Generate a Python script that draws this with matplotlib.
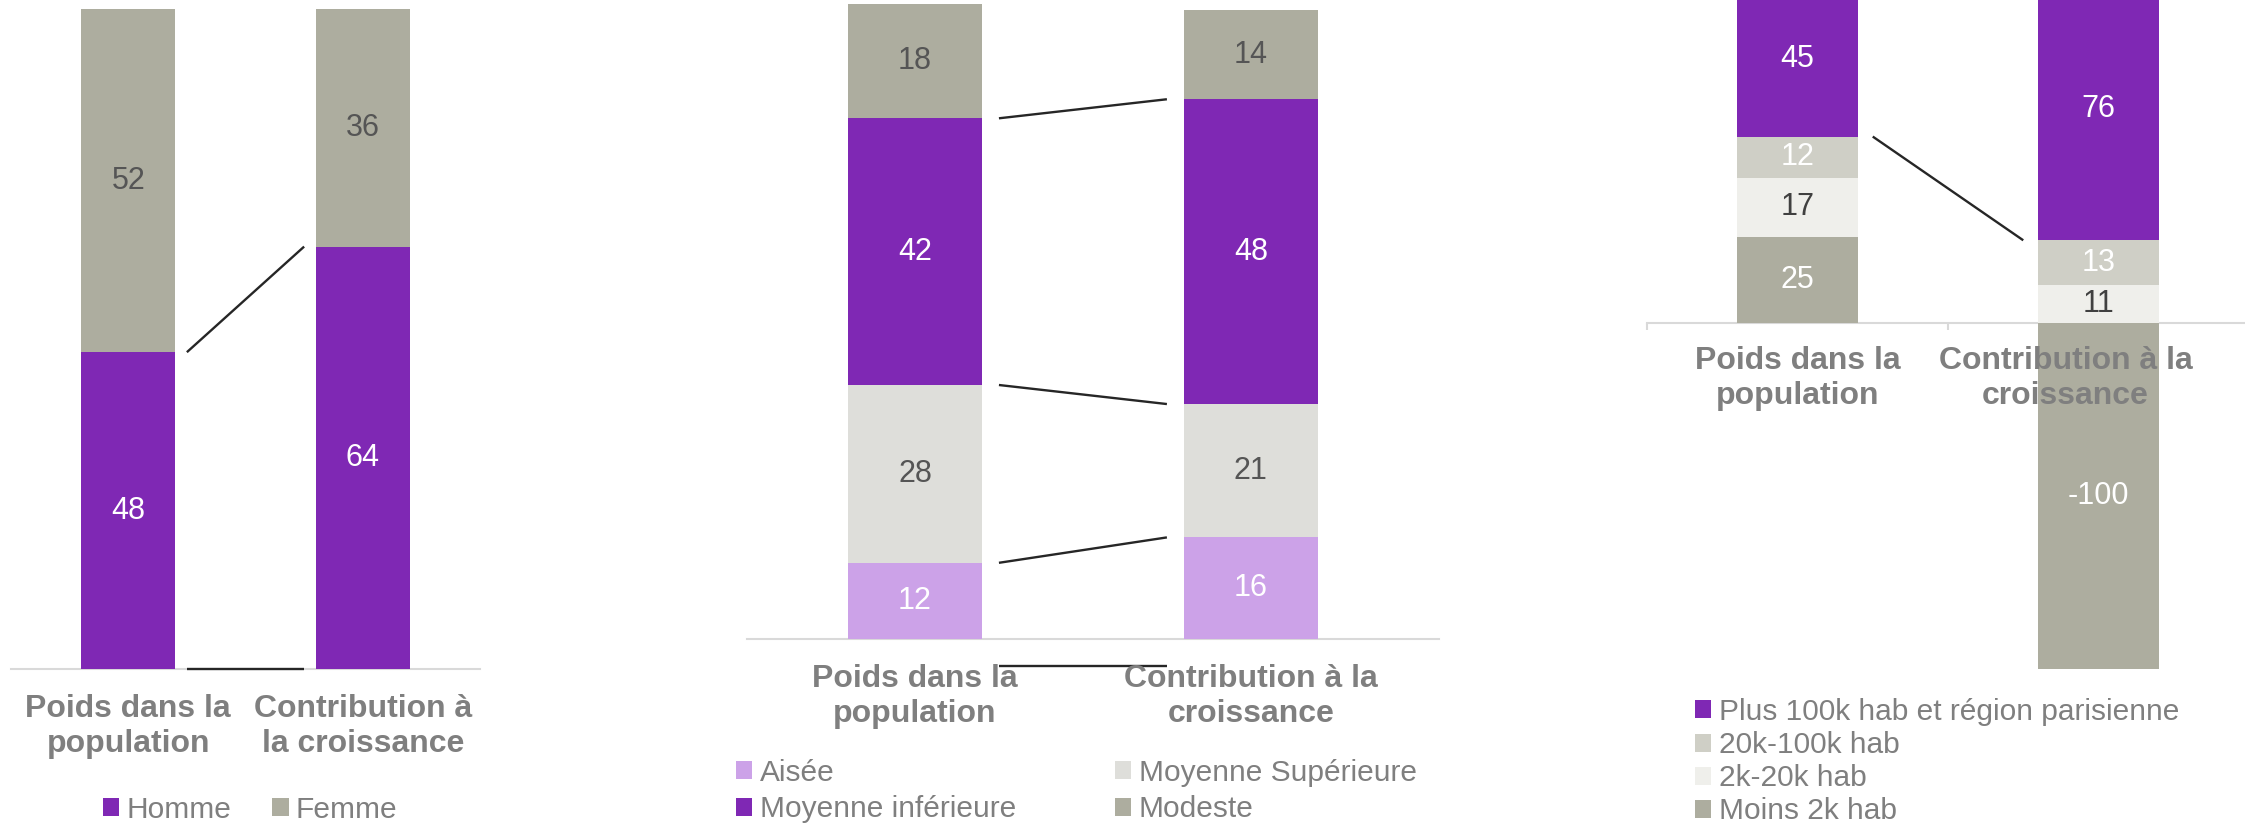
import numpy as np
import matplotlib.pyplot as plt
from matplotlib.transforms import blended_transform_factory, offset_copy

plt.rcParams['font.family'] = ['Liberation Sans', 'DejaVu Sans']

W, H = 2245, 826

cat_sexe = ['Poids dans la\npopulation', 'Contribution à\nla croissance']
cat_autres = ['Poids dans la\npopulation', 'Contribution à la\ncroissance']

# sexe
sexe = ['Homme', 'Femme']
homme = [48, 64]
femme = [52, 36]

# classes sociales (empilées de bas en haut)
classes = ['Aisée', 'Moyenne Supérieure', 'Moyenne inférieure', 'Modeste']
aisee = [12, 16]
moy_sup = [28, 21]
moy_inf = [42, 48]
modeste = [18, 14]

# taille de commune (empilées de bas en haut)
communes = ['Moins 2k hab', '2k-20k hab', '20k-100k hab',
            'Plus 100k hab et région parisienne']
moins_2k = [25, -100]
de_2k_20k = [17, 11]
de_20k_100k = [12, 13]
plus_100k = [45, 76]

VIOLET = '#7f28b4'
GRIS = '#adad9f'
LILAS = '#cca2e8'
GRIS_CLAIR = '#dededa'
GRIS_MOYEN = '#cfcfc6'
GRIS_PALE = '#efefeb'
TXT_FONCE = '#555555'
TXT_CAT = '#7f7f7f'
AXE = '#d9d9d9'

fig = plt.figure(figsize=(W / 100, H / 100), dpi=100)


def axes_px(left, top, right, bottom):
    return fig.add_axes([left / W, 1 - bottom / H, (right - left) / W, (bottom - top) / H])


def empiler(ax, series, couleurs, couleurs_txt, largeur=0.4):
    x = np.arange(2)
    pos = np.zeros(2)
    neg = np.zeros(2)
    barres, cumuls = [], []
    for vals, c, tc in zip(series, couleurs, couleurs_txt):
        vals = np.array(vals, dtype=float)
        base = np.where(vals >= 0, pos, neg)
        b = ax.bar(x, vals, largeur, bottom=base, color=c, edgecolor='none', zorder=2)
        for xi, v, b0 in zip(x, vals, base):
            ax.text(xi, b0 + v / 2, f'{int(v)}', ha='center', va='center',
                    color=tc, fontsize=22, zorder=5)
        pos = np.where(vals >= 0, pos + vals, pos)
        neg = np.where(vals < 0, neg + vals, neg)
        barres.append(b)
        cumuls.append(pos.copy())
    return barres, cumuls


def habiller(ax, xlim, ylim):
    ax.set_xlim(*xlim)
    ax.set_ylim(*ylim)
    for s in ['top', 'left', 'right']:
        ax.spines[s].set_visible(False)
    ax.spines['bottom'].set_position(('data', 0))
    ax.spines['bottom'].set_color(AXE)
    ax.spines['bottom'].set_linewidth(1.5)
    ax.spines['bottom'].set_zorder(1)
    ax.set_yticks([])
    ax.set_xticks([])
    ax.patch.set_alpha(0)


def relier(ax, y0, y1, largeur=0.4, ecart=0.05, transform=None):
    ax.plot([largeur / 2 + ecart, 1 - largeur / 2 - ecart], [y0, y1],
            color='#262626', lw=1.7, zorder=3, solid_capstyle='butt',
            transform=transform or ax.transData, clip_on=False)


def etiquettes(ax, cats, y_haut, decalages=(0, 0)):
    tr = blended_transform_factory(ax.transData, fig.transFigure)
    for i, (c, d) in enumerate(zip(cats, decalages)):
        ax.text(i + d, 1 - y_haut / H, c, transform=tr, ha='center', va='top',
                fontsize=23, fontweight='bold', color=TXT_CAT, linespacing=1.22,
                zorder=6)


def legende(ax, barres, noms, x, y, ncol, colsp=1.4, esp=0.05):
    ax.legend(barres, noms, loc='upper left', bbox_to_anchor=(x / W, 1 - y / H),
              bbox_transform=fig.transFigure, frameon=False, ncol=ncol,
              fontsize=21.5, handlelength=0.55, handleheight=0.55,
              handletextpad=0.25, labelcolor=TXT_CAT, borderpad=0,
              borderaxespad=0, columnspacing=colsp, labelspacing=esp)


# 1. sexe
ax1 = axes_px(11, 9, 480, 669)
b1, cum1 = empiler(ax1, [homme, femme], [VIOLET, GRIS], ['white', TXT_FONCE])
habiller(ax1, (-0.5, 1.5), (0, 100))
relier(ax1, 0, 0)
relier(ax1, *cum1[0])
etiquettes(ax1, cat_sexe, 694)
legende(ax1, b1, sexe, 103, 796, 2, colsp=1.35)

# 2. classes sociales
ax2 = axes_px(747, 4, 1439, 639)
b2, cum2 = empiler(ax2, [aisee, moy_sup, moy_inf, modeste],
                   [LILAS, GRIS_CLAIR, VIOLET, GRIS],
                   ['white', TXT_FONCE, 'white', TXT_FONCE])
habiller(ax2, (-0.5, 1.56), (0, 100))
relier(ax2, 0, 0, transform=offset_copy(ax2.transData, fig=fig, y=-27, units='dots'))
for c in cum2[:-1]:
    relier(ax2, *c)
etiquettes(ax2, cat_autres, 664)
legende(ax2, [b2[0], b2[2], b2[1], b2[3]],
        [classes[0], classes[2], classes[1], classes[3]], 736, 759, 2,
        colsp=3.3, esp=0.28)

# 3. taille de commune
ax3 = axes_px(1647, 0, 2249, 669)
b3, cum3 = empiler(ax3, [moins_2k, de_2k_20k, de_20k_100k, plus_100k],
                   [GRIS, GRIS_PALE, GRIS_MOYEN, VIOLET],
                   ['white', '#404040', 'white', 'white'])
habiller(ax3, (-0.5, 1.5), (-100, 93.5))
ax3.set_xticks([-0.5, 0.5, 1.5], minor=True)
ax3.tick_params(axis='x', which='minor', length=5, width=1.5, color=AXE)
relier(ax3, *cum3[2])
etiquettes(ax3, cat_autres, 346, decalages=(0, -0.11))
legende(ax3, b3[::-1], communes[::-1], 1695, 698, 1, esp=0.17)

fig.savefig('out.png', dpi=100)
